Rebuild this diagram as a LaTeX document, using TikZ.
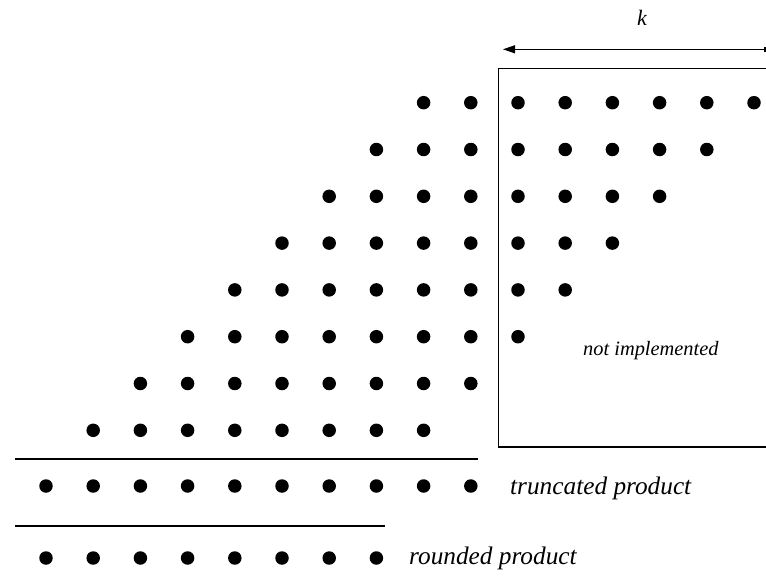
\documentclass[tikz,border=0pt]{standalone}
\usepackage{fontspec}
\setmainfont{Liberation Serif}
\usetikzlibrary{arrows.meta}
\begin{document}
\begin{tikzpicture}[x=1pt,y=-1pt,
  dot/.style={circle,fill=black,inner sep=0pt,minimum size=13.5pt},
  rule/.style={line width=1.2pt},
  frame/.style={line width=1.3pt},
  lbl/.style={inner sep=0pt,anchor=base west,font=\itshape\fontsize{25.3}{29}\selectfont},
  small/.style={inner sep=0pt,anchor=base west,font=\itshape\fontsize{20.4}{24}\selectfont}]
\useasboundingbox (0,0) rectangle (766,576);
\def\cx#1{46+47.2*#1}
\def\ry#1{102.7+46.8*#1}
% partial products: left part
\foreach \r in {0,...,6}{
  \pgfmathtruncatemacro{\first}{8-\r}
  \foreach \c in {\first,...,9}
    \node[dot] (p-\r-\c) at ({\cx{\c}},{\ry{\r}}) {};
}
\foreach \c in {1,...,8}
  \node[dot] (p-7-\c) at ({\cx{\c}},{\ry{7}}) {};
% partial products: right part, inside the frame
\foreach \r in {0,...,5}{
  \pgfmathtruncatemacro{\last}{15-\r}
  \foreach \c in {10,...,\last}
    \node[dot] (p-\r-\c) at ({\cx{\c}},{\ry{\r}}) {};
}
% truncated and rounded result rows
\foreach \c in {0,...,9}
  \node[dot] (t-\c) at ({\cx{\c}},486) {};
\foreach \c in {0,...,7}
  \node[dot] (q-\c) at ({\cx{\c}},558) {};
% separating rules
\coordinate (ta) at (15,459);
\coordinate (tb) at (478,459);
\coordinate (qa) at (15,526);
\coordinate (qb) at (385,526);
\draw[rule] (ta) -- (tb);
\draw[rule] (qa) -- (qb);
% frame of the omitted columns
\coordinate (fa) at (767,68.7);
\coordinate (fb) at (498.5,447);
\coordinate (fc) at (767,447);
\draw[frame] (fa) -| (fb) -- (fc);
% width arrow
\coordinate (ka) at (765.5,49.3);
\coordinate (kb) at (503,49.3);
\draw[line width=1.1pt,{Bar[width=5pt]}-{Triangle[length=12pt,width=8pt]}] (ka) -- (kb);
\node[inner sep=0pt,anchor=base,font=\itshape\fontsize{22}{26}\selectfont] (k) at (642,25) {k};
% labels
\node[lbl] (tl) at (510,494) {truncated product};
\node[lbl] (rl) at (409,564) {rounded product};
\node[small] (nl) at (583,355) {not implemented};
\end{tikzpicture}
\end{document}
